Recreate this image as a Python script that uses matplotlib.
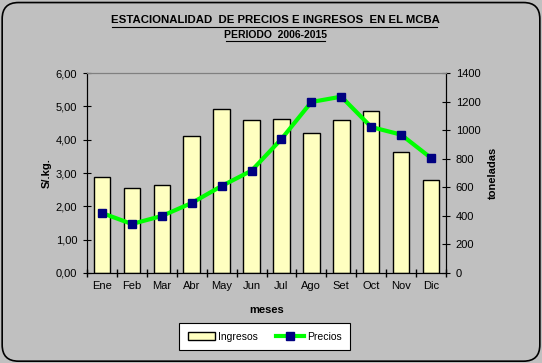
import matplotlib
matplotlib.use('Agg')
import matplotlib.pyplot as plt
from matplotlib.patches import FancyBboxPatch, Patch
from matplotlib.lines import Line2D
from matplotlib.ticker import FuncFormatter

plt.rcParams['font.family'] = ['Liberation Sans', 'DejaVu Sans']

# datos
meses = ['Ene', 'Feb', 'Mar', 'Abr', 'May', 'Jun', 'Jul', 'Ago', 'Set', 'Oct', 'Nov', 'Dic']
ingresos = [674, 593, 614, 957, 1146, 1069, 1076, 978, 1069, 1132, 845, 651]   # toneladas
precios = [1.80, 1.47, 1.71, 2.10, 2.61, 3.07, 4.02, 5.13, 5.29, 4.38, 4.15, 3.45]  # S/.kg.

gris = '#C0C0C0'
W, H = 542, 363
fig = plt.figure(figsize=(W / 100, H / 100), dpi=100)
fig.patch.set_facecolor(gris)

# borde redondeado (debajo de los ejes)
borde = FancyBboxPatch((0.004, 0.005), 0.992, 0.988, boxstyle='round,pad=0,rounding_size=0.03',
                       transform=fig.transFigure, facecolor=gris, edgecolor='black', lw=1.2,
                       mutation_aspect=W / H, zorder=-10)
fig.patches.append(borde)

x0, x1, ytop, ybot = 87, 446, 73, 273
ax = fig.add_axes([x0 / W, 1 - ybot / H, (x1 - x0) / W, (ybot - ytop) / H])
ax2 = ax.twinx()

x = list(range(len(meses)))
ax2.bar(x, ingresos, width=0.55, color='#FFFFC0', edgecolor='black', lw=1)
ax.plot(x, precios, color='#00FF00', lw=3, marker='s', markersize=6,
        markerfacecolor='#000080', markeredgecolor='#000080')

ax.set_zorder(ax2.get_zorder() + 1)
ax.patch.set_visible(False)
ax2.patch.set_facecolor(gris)

ax.set_xlim(-0.5, 11.5)
ax.set_ylim(0, 6)
ax2.set_ylim(0, 1400)
ax.set_yticks([0, 1, 2, 3, 4, 5, 6])
ax.yaxis.set_major_formatter(FuncFormatter(lambda v, p: ('%.2f' % v).replace('.', ',')))
ax2.set_yticks(range(0, 1401, 200))

ax.set_xticks(x)
ax.set_xticklabels(meses)
ax.set_xticks([i + 0.5 for i in range(-1, 12)], minor=True)
ax.tick_params(axis='x', which='major', length=0, pad=6, labelsize=8)
ax.tick_params(axis='x', which='minor', length=6, direction='inout', width=1)
ax.tick_params(axis='y', length=6, direction='inout', labelsize=8, pad=4)
ax2.tick_params(axis='y', length=6, direction='inout', labelsize=8, pad=4)

for a in (ax, ax2):
    a.spines['top'].set_color('#808080')
    a.spines['left'].set_color('black')
    a.spines['right'].set_color('black')
    a.spines['bottom'].set_color('black')

ax.set_ylabel('S/.kg.', fontsize=8, fontweight='bold', labelpad=3)
ax2.set_ylabel('toneladas', fontsize=8, fontweight='bold', labelpad=5)
ax.set_xlabel('meses', fontsize=8, fontweight='bold', labelpad=10)

fig.text(275 / W, 1 - 20 / H, 'ESTACIONALIDAD  DE PRECIOS E INGRESOS  EN EL MCBA',
         ha='center', va='center', fontsize=8.2, fontweight='bold')
fig.text(276 / W, 1 - 35 / H, 'PERIODO  2006-2015', ha='center', va='center',
         fontsize=7.5, fontweight='bold')
# subrayado de titulos
fig.add_artist(Line2D([112 / W, 437 / W], [1 - 26.5 / H] * 2, color='black', lw=0.8))
fig.add_artist(Line2D([226 / W, 325 / W], [1 - 40.5 / H] * 2, color='black', lw=0.8))

handles = [Patch(facecolor='#FFFFC0', edgecolor='black', label='Ingresos'),
           Line2D([], [], color='#00FF00', lw=3, marker='s', markersize=6,
                  markerfacecolor='#000080', markeredgecolor='#000080', label='Precios')]
leg = fig.legend(handles=handles, loc='center', bbox_to_anchor=(264.5 / W, 1 - 336.5 / H), ncol=2,
                 fontsize=7.5, frameon=True, fancybox=False, edgecolor='black',
                 facecolor='white', framealpha=1, columnspacing=1.8, handlelength=2.6,
                 handletextpad=0.3, borderpad=0.8)
leg.get_frame().set_linewidth(0.8)

fig.savefig('out.png', dpi=100, facecolor=gris)
